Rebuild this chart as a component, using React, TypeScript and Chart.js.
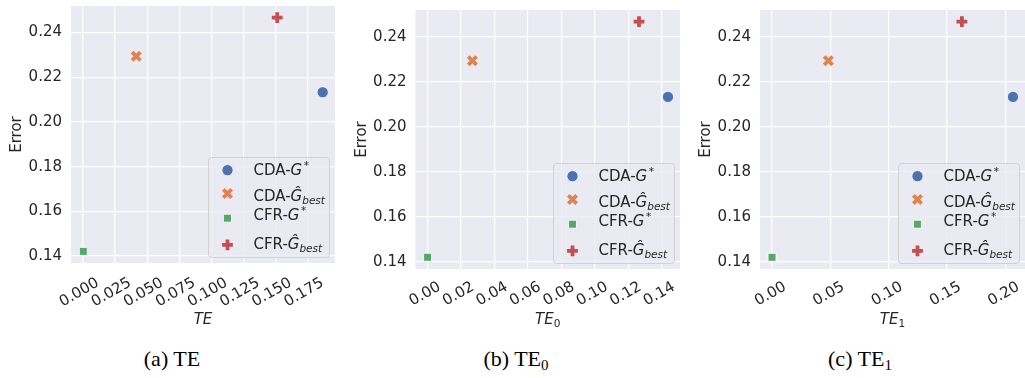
import React, { useEffect, useRef } from 'react';
import { Chart, registerables } from 'chart.js';
import { drawPoint } from 'chart.js/helpers';

Chart.register(...registerables);

// ---- data ----
const SERIES_PREFIX = ['CDA-', 'CDA-', 'CFR-', 'CFR-'];
const SERIES_BASE = ['G', 'Ĝ', 'G', 'Ĝ'];
const SERIES_SUP = ['*', '', '*', ''];
const SERIES_SUB = ['', 'best', '', 'best'];
const SERIES_COLORS = ['#4C72B0', '#DD8452', '#55A868', '#C44E52'];
const SERIES_MARKERS = ['circle', 'crossRot', 'rect', 'cross'];

const ERROR = [0.2133, 0.2294, 0.1421, 0.2467];
const TE = [0.1867, 0.0415, 0.0003, 0.1513];
const TE0 = [0.1437, 0.0268, 0.0, 0.1264];
const TE1 = [0.2066, 0.0483, 0.0, 0.1628];

const ERROR_TICKS = [0.14, 0.16, 0.18, 0.2, 0.22, 0.24];
const TE_TICKS = [0, 0.025, 0.05, 0.075, 0.1, 0.125, 0.15, 0.175];
const TE0_TICKS = [0, 0.02, 0.04, 0.06, 0.08, 0.1, 0.12, 0.14];
const TE1_TICKS = [0, 0.05, 0.1, 0.15, 0.2];

const ERROR_LIMITS = [0.1369, 0.2519];
const TE_LIMITS = [-0.0093, 0.1963];
const TE0_LIMITS = [-0.0072, 0.1509];
const TE1_LIMITS = [-0.0103, 0.2169];

const CAPTIONS = ['(a) TE', '(b) TE', '(c) TE'];
const CAPTION_SUBS = ['', '0', '1'];
const X_TITLE_BASE = ['TE', 'TE', 'TE'];
const X_TITLE_SUB = ['', '0', '1'];
const Y_TITLE = 'Error';

// ---- style ----
const FONT = '"DejaVu Sans", "Noto Sans", sans-serif';
const FS = 15;
const TEXT = '#262626';
const BG = '#EAEAF2';

const PANELS = [
  { xs: TE, ticks: TE_TICKS, lim: TE_LIMITS, dec: 3, left: 0, width: 340, pad: { left: 0, right: 5, top: 6, bottom: 0 }, yW: 71, xH: 67, labelOffset: 15, tickPad: 11, titleBase: 323.5 },
  { xs: TE0, ticks: TE0_TICKS, lim: TE0_LIMITS, dec: 2, left: 345, width: 335, pad: { left: 0, right: 0, top: 10, bottom: 0 }, yW: 70.5, xH: 61, labelOffset: 12, tickPad: 9, titleBase: 323.5 },
  { xs: TE1, ticks: TE1_TICKS, lim: TE1_LIMITS, dec: 2, left: 689, width: 336, pad: { left: 0, right: 0, top: 10, bottom: 0 }, yW: 71, xH: 61, labelOffset: 13, tickPad: 9, titleBase: 323.5 },
];
const CAPTION_CENTERS = [172, 516, 860];

function pointOpts(i: number) {
  const m = SERIES_MARKERS[i];
  if (m === 'circle') return { pointStyle: m, radius: 5.6, borderWidth: 0.8, rotation: 0 };
  if (m === 'rect') return { pointStyle: m, radius: 5.6, borderWidth: 0.8, rotation: 0 };
  if (m === 'crossRot') return { pointStyle: m, radius: 5.9, borderWidth: 3.8, rotation: 0 };
  return { pointStyle: m, radius: 5.4, borderWidth: 3.8, rotation: 0 };
}
function pointBorder(i: number) {
  const m = SERIES_MARKERS[i];
  return m === 'circle' || m === 'rect' ? '#ffffff' : SERIES_COLORS[i];
}

const bgPlugin = {
  id: 'bgArea',
  beforeDraw(chart: any) {
    const { ctx, chartArea: a } = chart;
    ctx.save();
    ctx.fillStyle = BG;
    ctx.fillRect(a.left, a.top, a.right - a.left, a.bottom - a.top);
    ctx.restore();
  },
};

function drawLabel(ctx: CanvasRenderingContext2D, i: number, x: number, base: number) {
  const small = FS * 0.7;
  ctx.fillStyle = TEXT;
  ctx.textAlign = 'left';
  ctx.textBaseline = 'alphabetic';
  ctx.font = `${FS}px ${FONT}`;
  ctx.fillText(SERIES_PREFIX[i], x, base);
  x += ctx.measureText(SERIES_PREFIX[i]).width;
  ctx.font = `italic ${FS}px ${FONT}`;
  ctx.fillText(SERIES_BASE[i], x, base);
  x += ctx.measureText(SERIES_BASE[i]).width;
  if (SERIES_SUP[i]) {
    ctx.font = `${small}px ${FONT}`;
    ctx.fillText(SERIES_SUP[i], x + 1.5, base - FS * 0.42);
  }
  if (SERIES_SUB[i]) {
    ctx.font = `italic ${small}px ${FONT}`;
    ctx.fillText(SERIES_SUB[i], x, base + FS * 0.2);
  }
}

const legendPlugin = {
  id: 'richLegend',
  afterDatasetsDraw(chart: any) {
    const { ctx, chartArea: a } = chart;
    const W = 121, H = 100;
    const bx = a.right - 6.5 - W;
    const by = a.bottom - 6.5 - H;
    ctx.save();
    ctx.beginPath();
    ctx.roundRect(Math.round(bx) + 0.5, Math.round(by) + 0.5, W, H, 3);
    ctx.fillStyle = 'rgba(234,234,242,0.8)';
    ctx.fill();
    ctx.strokeStyle = 'rgba(204,204,204,0.8)';
    ctx.lineWidth = 1;
    ctx.stroke();
    const rowY = [13.7, 37, 61.7, 88.4];
    const baseY = [18.7, 44.3, 63.7, 92.7];
    for (let i = 0; i < SERIES_PREFIX.length; i++) {
      ctx.fillStyle = SERIES_COLORS[i];
      ctx.strokeStyle = pointBorder(i);
      const o = pointOpts(i);
      ctx.lineWidth = o.borderWidth;
      drawPoint(ctx, o as any, bx + 20, by + rowY[i]);
      drawLabel(ctx, i, bx + 46, by + baseY[i]);
    }
    ctx.restore();
  },
};

function makeTitlePlugin(idx: number) {
  return {
    id: 'xTitle',
    afterDraw(chart: any) {
      const { ctx, chartArea: a } = chart;
      const base = X_TITLE_BASE[idx];
      const sub = X_TITLE_SUB[idx];
      ctx.save();
      ctx.fillStyle = TEXT;
      ctx.textBaseline = 'alphabetic';
      ctx.textAlign = 'left';
      ctx.font = `italic ${FS}px ${FONT}`;
      const wb = ctx.measureText(base).width;
      ctx.font = `${FS * 0.7}px ${FONT}`;
      const ws = sub ? ctx.measureText(sub).width : 0;
      const cx = (a.left + a.right) / 2;
      const x0 = cx - (wb + ws) / 2;
      const y = PANELS[idx].titleBase;
      ctx.font = `italic ${FS}px ${FONT}`;
      ctx.fillText(base, x0, y);
      if (sub) {
        ctx.font = `${FS * 0.7}px ${FONT}`;
        ctx.fillText(sub, x0 + wb, y + FS * 0.2);
      }
      ctx.restore();
    },
  };
}

function zeroPad(s: any) {
  s.paddingTop = 0;
  s.paddingBottom = 0;
  s.paddingLeft = 0;
  s.paddingRight = 0;
}

function Panel({ idx }: { idx: number }) {
  const ref = useRef<HTMLCanvasElement>(null);
  const p = PANELS[idx];
  useEffect(() => {
    const canvas = ref.current!;
    const datasets = SERIES_PREFIX.map((pre, i) => {
      const o = pointOpts(i);
      return {
        label: pre + SERIES_BASE[i] + SERIES_SUP[i] + SERIES_SUB[i],
        data: [{ x: p.xs[i], y: ERROR[i] }],
        backgroundColor: SERIES_COLORS[i],
        borderColor: pointBorder(i),
        pointStyle: o.pointStyle,
        pointRadius: o.radius,
        pointBorderWidth: o.borderWidth,
        pointHoverRadius: o.radius,
      };
    });
    const chart = new Chart(canvas, {
      type: 'scatter',
      data: { datasets } as any,
      plugins: [bgPlugin, legendPlugin, makeTitlePlugin(idx)],
      options: {
        animation: false,
        responsive: false,
        devicePixelRatio: 1,
        layout: { padding: p.pad, autoPadding: false },
        plugins: { legend: { display: false }, tooltip: { enabled: false } },
        scales: {
          x: {
            type: 'linear',
            min: p.lim[0],
            max: p.lim[1],
            afterBuildTicks: (s: any) => { s.ticks = p.ticks.map((v) => ({ value: v })); },
            afterFit: (s: any) => { s.height = p.xH; zeroPad(s); },
            border: { display: false },
            grid: { color: '#ffffff', lineWidth: 1.2, drawTicks: false },
            ticks: {
              autoSkip: false,
              minRotation: 30,
              maxRotation: 30,
              labelOffset: p.labelOffset,
              padding: p.tickPad,
              color: TEXT,
              font: { family: FONT, size: FS },
              callback: (v: any) => Number(v).toFixed(p.dec),
            },
            title: { display: false },
          },
          y: {
            type: 'linear',
            min: ERROR_LIMITS[0],
            max: ERROR_LIMITS[1],
            afterBuildTicks: (s: any) => { s.ticks = ERROR_TICKS.map((v) => ({ value: v })); },
            afterFit: (s: any) => { s.width = p.yW; zeroPad(s); },
            border: { display: false },
            grid: { color: '#ffffff', lineWidth: 1.2, drawTicks: false },
            ticks: {
              padding: 9,
              color: TEXT,
              font: { family: FONT, size: FS },
              callback: (v: any) => Number(v).toFixed(2),
            },
            title: {
              display: true,
              text: Y_TITLE,
              color: TEXT,
              font: { family: FONT, size: FS },
              padding: { top: 8.5, bottom: 0 },
            },
          },
        },
      } as any,
    });
    return () => chart.destroy();
  }, [idx]);
  return (
    <canvas
      ref={ref}
      width={p.width}
      height={330}
      style={{ position: 'absolute', left: p.left, top: 0, width: p.width, height: 330 }}
    />
  );
}

export default function App() {
  return (
    <div style={{ position: 'absolute', left: 0, top: 0, width: 1025, height: 378, background: '#ffffff', overflow: 'hidden' }}>
      {PANELS.map((_, i) => <Panel key={i} idx={i} />)}
      {CAPTIONS.map((c, i) => (
        <div
          key={'cap' + i}
          style={{
            position: 'absolute',
            left: CAPTION_CENTERS[i] - 100,
            width: 200,
            top: 347.6,
            textAlign: 'center',
            fontFamily: '"Liberation Serif", serif',
            fontSize: 22,
            lineHeight: '22px',
            color: '#000',
            whiteSpace: 'nowrap',
          }}
        >
          {c}
          {CAPTION_SUBS[i] ? (
            <span style={{ fontSize: 15, position: 'relative', top: 4 }}>{CAPTION_SUBS[i]}</span>
          ) : null}
        </div>
      ))}
    </div>
  );
}
